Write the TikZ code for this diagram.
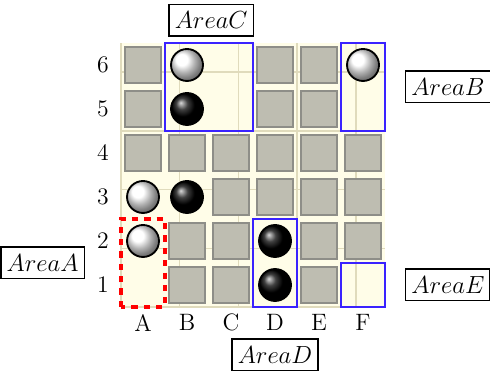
\documentclass[tikz,border=0pt]{standalone}
\usepackage{amsmath,amssymb}
\usepackage{tikz}

\definecolor{boardbg}{HTML}{FFFDE8}
\definecolor{boardline}{HTML}{E0DBBC}
\definecolor{blockfill}{HTML}{BEBDB1}
\definecolor{blockline}{HTML}{8E8E88}
\definecolor{areablue}{HTML}{3A22FF}

\begin{document}
\begin{tikzpicture}[x=0.75cm,y=0.75cm,
  every node/.style={inner sep=3.5pt,font=\fontsize{11.5}{14}\selectfont},
  block/.style={fill=blockfill,draw=blockline,line width=1pt},
  stone/.style={circle,draw=black,line width=0.9pt,shading=ball,
    minimum size=0.545cm,inner sep=0pt},
  whitestone/.style={stone,ball color=white},
  blackstone/.style={stone,ball color=black},
  areaframe/.style={draw=areablue,line width=1pt},
  areadash/.style={draw=red,line width=1.6pt,dashed},
  arealabel/.style={draw=black,line width=0.8pt,inner xsep=2.8pt}]
\useasboundingbox (-2.75,-1.636) rectangle (8.386,6.977);
% board
\fill[boardbg] (0,0) rectangle (6,6);
\draw[boardline,line width=0.8pt] (0,0) grid (6,6);
% blocked squares
\foreach \c/\r in {0/5,3/5,4/5,0/4,3/4,4/4,
                   0/3,1/3,2/3,3/3,4/3,5/3,
                   2/2,3/2,4/2,5/2,
                   1/1,2/1,4/1,5/1,
                   1/0,2/0,4/0}
  \draw[block] (\c+0.09,\r+0.09) rectangle (\c+0.91,\r+0.91);
% stones
\node[whitestone] (wbsix) at (1.5,5.5) {};
\node[whitestone] (wfsix) at (5.5,5.5) {};
\node[blackstone] (bbfive) at (1.5,4.5) {};
\node[whitestone] (wathree) at (0.5,2.5) {};
\node[blackstone] (bbthree) at (1.5,2.5) {};
\node[whitestone] (watwo) at (0.5,1.5) {};
\node[blackstone] (bdtwo) at (3.5,1.5) {};
\node[blackstone] (bdone) at (3.5,0.5) {};
% areas
\draw[areaframe] (1,4) rectangle (3,6);
\draw[areaframe] (5,4) rectangle (6,6);
\draw[areaframe] (3,0) rectangle (4,2);
\draw[areaframe] (5,0) rectangle (6,1);
\draw[areadash] (0,0) rectangle (1,2);
% coordinates
\foreach \r in {1,...,6}
  \node (row\r) at (-0.41,\r-0.5) {\r};
\foreach \l [count=\i] in {A,B,C,D,E,F}
  \node (col\l) at (\i-0.5,-0.36) {\l};
% area labels
\node[arealabel] (areaA) at (-1.78,1.0) {$AreaA$};
\node[arealabel] (areaB) at (7.43,5.0) {$AreaB$};
\node[arealabel] (areaC) at (2.05,6.52) {$AreaC$};
\node[arealabel] (areaD) at (3.5,-1.09) {$AreaD$};
\node[arealabel] (areaE) at (7.43,0.5) {$AreaE$};
\end{tikzpicture}
\end{document}
